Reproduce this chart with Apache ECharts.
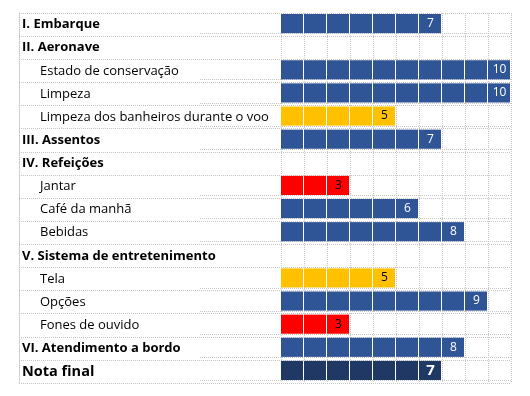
<!DOCTYPE html>
<html lang="pt">
<head>
    <meta charset="UTF-8">
    <title>Avaliação do voo</title>
    <script type="text/javascript" src="https://cdn.jsdelivr.net/npm/echarts@6/dist/echarts.min.js"></script>
    <style>
        body { margin: 0; background: #fff; }
    </style>
</head>
<body>
<div id="main" style="width: 530px;height:396px;"></div>
<script type="text/javascript">
    // itens da avaliação (de cima para baixo)
    var categories = [
        'I. Embarque',
        'II. Aeronave',
        'Estado de conservação',
        'Limpeza',
        'Limpeza dos banheiros durante o voo',
        'III. Assentos',
        'IV. Refeições',
        'Jantar',
        'Café da manhã',
        'Bebidas',
        'V. Sistema de entretenimento',
        'Tela',
        'Opções',
        'Fones de ouvido',
        'VI. Atendimento a bordo',
        'Nota final'
    ];
    // notas (0 a 10), null = cabeçalho sem nota
    var notas = [7, null, 10, 10, 5, 7, null, 3, 6, 8, null, 5, 9, 3, 8, 7];
    var escala = [0, 10];

    function isSection(name) {
        return /^[IVX]+\./.test(name);
    }
    function isFinal(name) {
        return name === 'Nota final';
    }
    function corDaNota(v, name) {
        if (isFinal(name)) return '#203864';
        if (v <= 3) return '#ff0000';
        if (v <= 5) return '#ffc000';
        return '#2f5597';
    }

    var dados = [];
    for (var i = 0; i < notas.length; i++) {
        if (notas[i] != null) dados.push([notas[i], i]);
    }

    var dotted = { color: '#c6c6c6', width: 1, type: [1, 1] };
    var fonte = 'Open Sans';

    var myChart = echarts.init(document.getElementById('main'));

    var option = {
        animation: false,
        grid: [
            { left: 19, width: 262, top: 13, bottom: 13 },
            { left: 281, right: 19, top: 13, bottom: 13 }
        ],
        xAxis: [
            { gridIndex: 0, type: 'value', min: 0, max: 1, show: false },
            {
                gridIndex: 1, type: 'value', min: escala[0], max: escala[1], interval: 1,
                axisLine: { show: false }, axisTick: { show: false }, axisLabel: { show: false },
                splitLine: { show: true, lineStyle: dotted }
            }
        ],
        yAxis: [
            {
                gridIndex: 0, type: 'category', data: categories, inverse: true,
                axisLine: { show: true, lineStyle: dotted },
                axisTick: { show: false },
                splitLine: { show: true, lineStyle: dotted },
                axisLabel: {
                    inside: true, margin: 3, color: '#000',
                    formatter: function (name) {
                        if (isFinal(name)) return '{f|' + name + '}';
                        if (isSection(name)) return '{h|' + name + '}';
                        return '{s|' + name + '}';
                    },
                    rich: {
                        h: { fontFamily: fonte, fontSize: 13, fontWeight: 'bold', color: '#000' },
                        f: { fontFamily: fonte, fontSize: 14.5, fontWeight: 'bold', color: '#000' },
                        s: { fontFamily: fonte, fontSize: 13, color: '#000', padding: [0, 0, 0, 18] }
                    }
                }
            },
            {
                gridIndex: 1, type: 'category', data: categories, inverse: true,
                axisLine: { show: false }, axisTick: { show: false }, axisLabel: { show: false },
                splitLine: { show: true, lineStyle: dotted }
            }
        ],
        series: [{
            // linha pontilhada extra no fim de cada faixa com barra
            type: 'custom',
            xAxisIndex: 1,
            yAxisIndex: 1,
            data: dados,
            silent: true,
            z: 1,
            renderItem: function (params, api) {
                var row = api.value(1);
                var rh = api.size([1, 1])[1];
                var yc = api.coord([0, row])[1];
                var yb = Math.round(yc - rh / 2 + 1 + rh - 4) + 0.5;
                return {
                    type: 'line',
                    shape: { x1: api.coord([0, row])[0] - 81, y1: yb, x2: api.coord([escala[1], row])[0], y2: yb },
                    style: { stroke: dotted.color, lineWidth: 1, lineDash: [1, 1] }
                };
            }
        }, {
            type: 'custom',
            xAxisIndex: 1,
            yAxisIndex: 1,
            data: dados,
            z: 2,
            renderItem: function (params, api) {
                var v = api.value(0);
                var row = api.value(1);
                var name = categories[row];
                var cell = api.size([1, 1]);
                var cw = cell[0], rh = cell[1];
                var yc = api.coord([0, row])[1];
                var top = yc - rh / 2 + 1;
                var bh = rh - 4;
                var cor = corDaNota(v, name);
                var children = [];
                for (var k = 0; k < v; k++) {
                    var x = api.coord([k, row])[0];
                    children.push({
                        type: 'rect',
                        shape: { x: x, y: top, width: cw - 1, height: bh },
                        style: { fill: cor }
                    });
                }
                var xl = api.coord([v - 0.5, row])[0];
                var claro = cor === '#2f5597' || cor === '#203864';
                children.push({
                    type: 'text',
                    x: xl,
                    y: top + bh / 2,
                    style: {
                        text: String(v),
                        fill: claro ? '#fff' : '#000',
                        font: (isFinal(name) ? 'bold 15px ' : '12px ') + fonte,
                        align: 'center',
                        verticalAlign: 'middle'
                    }
                });
                return { type: 'group', children: children };
            }
        }]
    };
    myChart.setOption(option);
</script>
</body>
</html>
